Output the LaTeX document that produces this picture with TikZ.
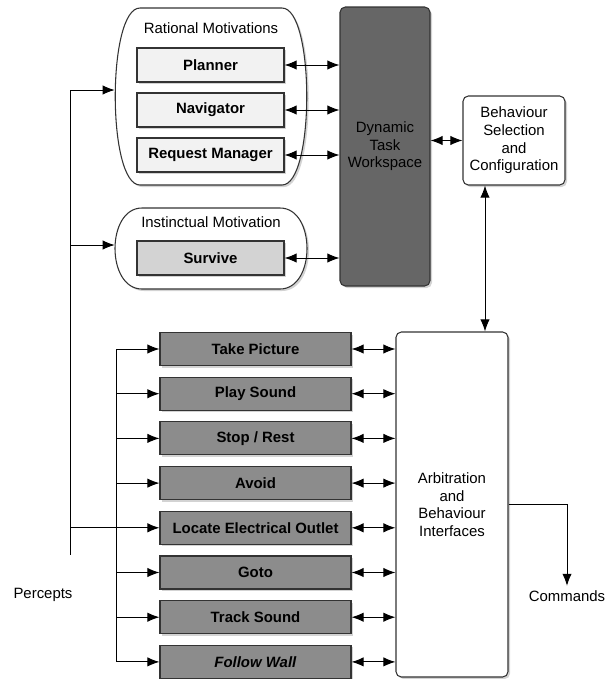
\documentclass[tikz,border=0pt]{standalone}
\usepackage{fontspec}
\setmainfont{Liberation Sans}
\usepackage{tikz}
\usetikzlibrary{calc,arrows.meta,shadows}

\definecolor{lightbox}{HTML}{F2F2F2}
\definecolor{midbox}{HTML}{D3D3D3}
\definecolor{darkbox}{HTML}{666666}
\definecolor{behbox}{HTML}{8C8C8C}
\definecolor{edge}{HTML}{333333}

\tikzset{
	shade/.style={drop shadow={shadow xshift=1.5pt, shadow yshift=-1.5pt, opacity=0.35}},
	base/.style={draw=edge, line width=0.8pt, align=center, inner sep=0pt, shade},
	group/.style={draw=edge, line width=0.8pt, fill=white, shade},
	motive/.style={base, fill=lightbox, minimum width=110.25pt, minimum height=25.5pt, font=\fontsize{11.2}{13.2}\selectfont\bfseries},
	behav/.style={base, fill=behbox, minimum width=143.25pt, minimum height=24.75pt, font=\fontsize{11.2}{13.2}\selectfont\bfseries},
	panel/.style={base, rounded corners=4pt},
	arr/.style={-{Latex[length=9pt,width=7pt]}, line width=0.75pt},
	dbl/.style={{Latex[length=9pt,width=7pt]}-{Latex[length=9pt,width=7pt]}, line width=0.75pt},
}

\begin{document}
\begin{tikzpicture}[x=0.75pt, y=-0.75pt, font=\fontsize{11.2}{13.2}\selectfont]
	\useasboundingbox (0,0) rectangle (613,679);
	%draw motivation groups
	\path[group] (140,8) -- (282,8) .. controls (315,8) and (315,185) .. (282,185)
		-- (140,185) .. controls (107,185) and (107,8) .. (140,8) -- cycle;
	\node[minimum width=144pt, minimum height=132.75pt, inner sep=0pt] (rat) at (211,96.5) {};
	\node (rattitle) at (211,28) {Rational Motivations};
	\path[group] (142,208) -- (280,208) .. controls (316,208) and (316,289) .. (280,289)
		-- (142,289) .. controls (106,289) and (106,208) .. (142,208) -- cycle;
	\node[minimum width=144pt, minimum height=60.75pt, inner sep=0pt] (ins) at (211,248.5) {};
	\node (institle) at (211,222) {Instinctual Motivation};
	\node[motive] (plan) at (210.5,65) {Planner};
	\node[motive] (nav) at (210.5,110) {Navigator};
	\node[motive] (req) at (210.5,155) {Request Manager};
	\node[motive, fill=midbox] (surv) at (210.5,258) {Survive};
	%draw workspace and selection
	\node[panel, fill=darkbox, minimum width=67.5pt, minimum height=209.25pt] (dtw) at (385,146.5) {Dynamic\\Task\\Workspace};
	\node[panel, fill=white, minimum width=76.5pt, minimum height=66.75pt] (bsc) at (514,140.5) {Behaviour\\Selection\\and\\Configuration};
	\node[panel, fill=white, minimum width=84pt, minimum height=258.75pt] (arb) at (452,504.5) {Arbitration\\and\\Behaviour\\Interfaces};
	%draw behaviours
	\foreach \nm/\txt [count=\i from 0] in {take/Take Picture, play/Play Sound, stop/{Stop / Rest}, avoid/Avoid, outlet/Locate Electrical Outlet, goto/Goto, track/Track Sound, wall/{\textit{Follow Wall}}}{
		\node[behav] (\nm) at (255.5,349+44.7*\i) {\txt};
		\draw[dbl] (\nm.east) -- (\nm.east -| arb.west);
	}
	%draw labels
	\node (perc) at (43,595) {Percepts};
	\node (cmd) at (567,596) {Commands};
	%draw connectors
	\coordinate (ptop) at (70,90);
	\coordinate (pbot) at (70,555);
	\coordinate (bus) at (116,0);
	\draw[line width=0.75pt] (ptop) -- (pbot);
	\draw[arr] (ptop) -- (ptop -| rat.west);
	\draw[arr] (ptop |- 0,245) -- (ins.west |- 0,245);
	\draw[line width=0.75pt] (take.west -| bus) -- (wall.west -| bus);
	\draw[line width=0.75pt] (ptop |- outlet.west) -- (outlet.west -| bus);
	\foreach \nm in {take, play, stop, avoid, outlet, goto, track, wall}{
		\draw[arr] (\nm.west -| bus) -- (\nm.west);
	}
	\foreach \nm in {plan, nav, req, surv}{
		\draw[dbl] (\nm.east) -- (\nm.east -| dtw.west);
	}
	\draw[dbl] (dtw.east |- bsc.west) -- (bsc.west);
	\draw[dbl] ([xshift=-21.75pt]bsc.south) -- ([xshift=-21.75pt]bsc.south |- arb.north);
	\draw[arr] (arb.east) -| (cmd.north);
\end{tikzpicture}
\end{document}
